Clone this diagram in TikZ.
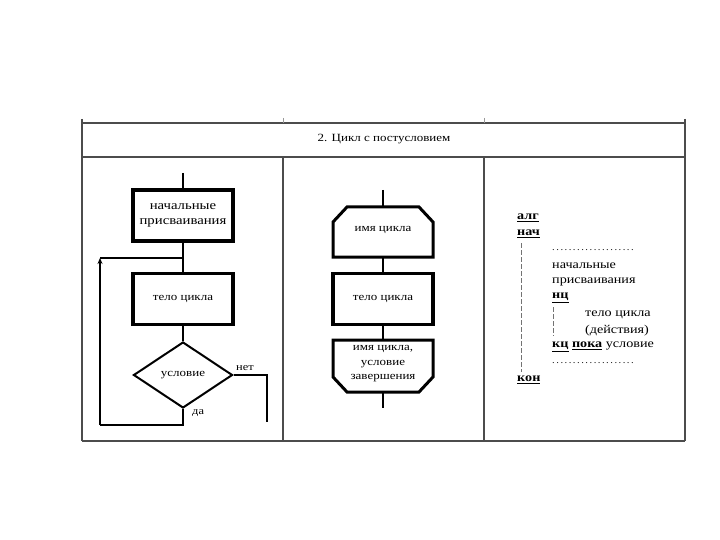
\documentclass[tikz,border=0pt]{standalone}
\usepackage{fontspec}
\setmainfont{Liberation Serif}[FakeStretch=1.18]
\usetikzlibrary{arrows.meta,shapes.geometric}
\tikzset{
  frame/.style={draw=black!70, line width=1.4pt},
  tick/.style={draw=black!40, line width=0.6pt},
  conn/.style={draw=black, line width=2.6pt},
  thickbox/.style={draw=black, line width=3.2pt, minimum width=100pt, minimum height=51pt, align=center, font=\fontsize{11}{13}\selectfont},
  cond/.style={draw=black, line width=2pt, diamond, aspect=1.5, minimum width=99pt, minimum height=66pt, inner sep=0pt, font=\fontsize{11}{13}\selectfont},
  lbl/.style={font=\fontsize{10.5}{12}\selectfont, inner sep=1pt},
  txt/.style={font=\fontsize{12}{16}\selectfont, anchor=west, inner sep=0pt},
  kw/.style={font=\fontsize{12}{16}\selectfont\bfseries, anchor=west, inner sep=0pt},
  guide/.style={draw=black!55, line width=0.7pt, dash pattern=on 5pt off 2pt},
}
\newcommand{\kwu}[1]{\underline{#1}}
\newcommand{\dotrow}{\fontsize{9}{12}\selectfont.\,.\,.\,.\,.\,.\,.\,.\,.\,.\,.\,.\,.\,.\,.\,.\,.\,.\,.\,.}
\begin{document}
\begin{tikzpicture}[x=1pt,y=-1pt]
\useasboundingbox[fill=white] (0,0) rectangle (720,540);
% table
\draw[frame] (82,123) -- (685,123);
\draw[frame] (82,157) -- (685,157);
\draw[frame] (82,441) -- (685,441);
\draw[frame] (82,119) -- (82,441);
\draw[frame] (685,119) -- (685,441);
\draw[frame] (283,157) -- (283,441);
\draw[frame] (484,157) -- (484,441);
\draw[tick] (283,118) -- (283,123);
\draw[tick] (484,118) -- (484,123);
\node[font=\fontsize{11}{13}\selectfont] (hdr) at (384,139) {2. Цикл с постусловием};

% ---- column 1 flowchart
\coordinate (top1) at (183,173);
\node[thickbox, font=\fontsize{12.5}{15}\selectfont] (init) at (183,215.5) {начальные\\присваивания};
\node[thickbox] (body1) at (183,299) {тело цикла};
\node[cond] (cnd) at (183,375) {условие};
\coordinate (join) at (183,258);
\coordinate (lb) at (100,425);
\coordinate (lt) at (100,258);
\coordinate (rno) at (267,375);
\coordinate (rend) at (267,422);
\draw[conn] (top1) -- (init.north);
\draw[conn] (init.south) -- (body1.north);
\draw[conn] (body1.south) -- (cnd.north);
\draw[conn] (cnd.south) |- (lb);
\draw[conn, -{Stealth[length=6pt,width=5pt]}] (lb) -- (lt);
\draw[conn] (lt) -- (join);
\draw[conn] (cnd.east) -- (rno) -- (rend);
\node[lbl, anchor=south west] (no) at (235,372) {нет};
\node[lbl, anchor=west] (yes) at (191,413) {да};

% ---- column 2 flowchart
\coordinate (top2) at (383,190);
\coordinate (end2) at (383,408);
\draw[draw=black, line width=3pt] (333,257) -- (333,222) -- (347,207) -- (419,207) -- (433,222) -- (433,257) -- cycle;
\node[font=\fontsize{11}{13}\selectfont] (lname) at (383,230) {имя цикла};
\coordinate (ls) at (383,257);
\coordinate (ln) at (383,207);
\node[thickbox] (body2) at (383,299) {тело цикла};
\draw[draw=black, line width=3pt] (333,340) -- (433,340) -- (433,377) -- (419,392) -- (347,392) -- (333,377) -- cycle;
\node[font=\fontsize{11}{14.5}\selectfont, align=center] (lend) at (383,364) {имя цикла,\\условие\\завершения};
\coordinate (en) at (383,340);
\coordinate (es) at (383,392);
\draw[conn] (top2) -- (ln);
\draw[conn] (ls) -- (body2.north);
\draw[conn] (body2.south) -- (en);
\draw[conn] (es) -- (end2);

% ---- column 3 text
\node[kw] (alg) at (517,218) {\kwu{алг}};
\node[kw] (nach) at (517,234) {\kwu{нач}};
\draw[guide] (521,243) -- (521,372);
\node[txt] (d1) at (552,250) {\dotrow};
\node[txt] (t1) at (552,266) {начальные};
\node[txt] (t2) at (552,282) {присваивания};
\node[kw] (nc) at (552,298) {\kwu{нц}};
\draw[guide] (553,307) -- (553,336);
\node[txt] (t3) at (585,315) {тело цикла};
\node[txt] (t4) at (585,331) {(действия)};
\node[txt] (t5) at (552,347) {\textbf{\kwu{кц}} \textbf{\kwu{пока}} условие};
\node[txt] (d2) at (552,363) {\dotrow};
\node[kw] (kon) at (517,380) {\kwu{кон}};
\end{tikzpicture}
\end{document}
